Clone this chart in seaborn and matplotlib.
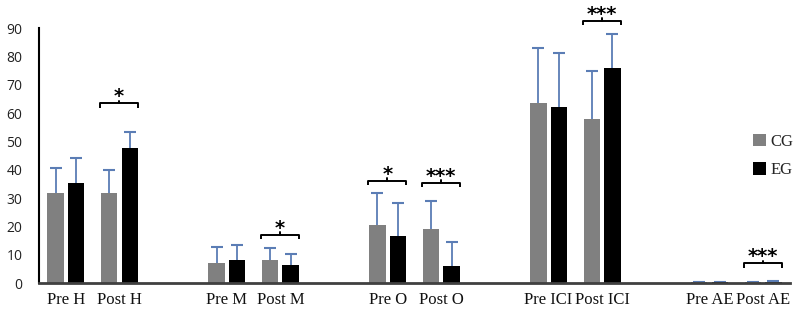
import matplotlib
matplotlib.use("Agg")
import matplotlib.pyplot as plt
import seaborn as sns
import pandas as pd
import numpy as np

# ---- data ----
categories = ["Pre H", "Post H", "Pre M", "Post M", "Pre O", "Post O",
              "Pre ICI", "Post ICI", "Pre AE", "Post AE"]
cg_mean = [31.7, 31.7, 7.3, 8.4, 20.5, 19.2, 63.5, 58.0, 0.3, 0.3]
eg_mean = [35.3, 47.9, 8.1, 6.3, 16.7, 6.0, 62.3, 76.0, 0.3, 0.5]
cg_sd = [9.1, 8.3, 5.5, 4.2, 11.3, 9.9, 19.4, 17.0, 0.3, 0.3]
eg_sd = [9.0, 5.5, 5.3, 3.9, 11.8, 8.5, 19.1, 12.0, 0.3, 0.4]
groups = ["CG", "EG"]
sig_labels = ["*", "*", "*", "***", "***", "***"]
sig_cats = ["Post H", "Post M", "Pre O", "Post O", "Post ICI", "Post AE"]
sig_heights = [63.5, 17.2, 36.2, 35.5, 92.7, 7.0]
yticks = [0, 10, 20, 30, 40, 50, 60, 70, 80, 90]

# slot order with empty spacer slots between pairs
order = ["Pre H", "Post H", " ", "Pre M", "Post M", "  ", "Pre O", "Post O",
         "   ", "Pre ICI", "Post ICI", "    ", "Pre AE", "Post AE"]

df = pd.DataFrame({
    "cat": categories * 2,
    "group": ["CG"] * len(categories) + ["EG"] * len(categories),
    "value": cg_mean + eg_mean,
})

sns.set_theme(style="white")
plt.rcParams["font.family"] = ["DejaVu Sans"]

fig = plt.figure(figsize=(7.95, 3.16), dpi=100)
ax = fig.add_axes([39 / 795, 1 - 283.3 / 316, 751 / 795, 255 / 316])

sns.barplot(data=df, x="cat", y="value", hue="group", order=order,
            hue_order=groups, palette={"CG": "#808080", "EG": "#000000"},
            width=0.76, gap=0.2, errorbar=None, ax=ax, saturation=1,
            linewidth=0)

# error bars (upper only)
for cont, sd in zip(ax.containers, [cg_sd, eg_sd]):
    patches = sorted(cont.patches, key=lambda p: p.get_x())
    xs = [p.get_x() + p.get_width() / 2 for p in patches]
    hs = [p.get_height() for p in patches]
    eb = ax.errorbar(xs, hs, yerr=[np.zeros(len(sd)), sd], fmt="none",
                     ecolor="#5b7db5", elinewidth=1.3, capsize=4,
                     capthick=1.5, zorder=1)
    eb[1][0].set_visible(False)
for p in ax.patches:
    p.set_zorder(2)
    p.set_linewidth(0)

# significance brackets
for lab, cat, h in zip(sig_labels, sig_cats, sig_heights):
    c = order.index(cat)
    x0, x1 = c - 0.36, c + 0.35
    xm = (x0 + x1) / 2
    ax.plot([x0, x0, x1, x1], [h - 1.5, h, h, h - 1.5], color="black",
            lw=1.4, clip_on=False, solid_capstyle="butt")
    ax.plot([xm, xm], [h, h + 1.0], color="black", lw=1.4, clip_on=False)
    ax.text(xm, h + 2.3, lab, ha="center", va="center", fontsize=14,
            fontweight="bold", color="black", clip_on=False)

ax.set_xlim(-0.5, len(order) - 0.5)
ax.set_ylim(0, 90)
ax.set_yticks(yticks)
ax.set_yticklabels([str(t) for t in yticks], family="Open Sans",
                   fontsize=10, color="#222222")
ax.set_xlabel("")
ax.set_ylabel("")
ax.tick_params(axis="both", length=0)
ax.tick_params(axis="y", pad=12)
ax.tick_params(axis="x", pad=6)
for t in ax.get_xticklabels():
    t.set_family("Liberation Serif")
    t.set_fontsize(12)
    t.set_color("#111111")

for s in ["top", "right"]:
    ax.spines[s].set_visible(False)
ax.spines["left"].set_color("black")
ax.spines["left"].set_linewidth(1.5)
ax.spines["bottom"].set_color("#404040")
ax.spines["bottom"].set_linewidth(2)

sns.move_legend(ax, loc="center left",
                bbox_to_anchor=(738 / 795, 1 - 156 / 316),
                bbox_transform=fig.transFigure, frameon=False, title=None,
                handlelength=0.75, handleheight=0.75, handletextpad=0.3,
                labelspacing=0.75,
                prop={"family": "Liberation Serif", "size": 12})

fig.savefig("out.png", dpi=100)
